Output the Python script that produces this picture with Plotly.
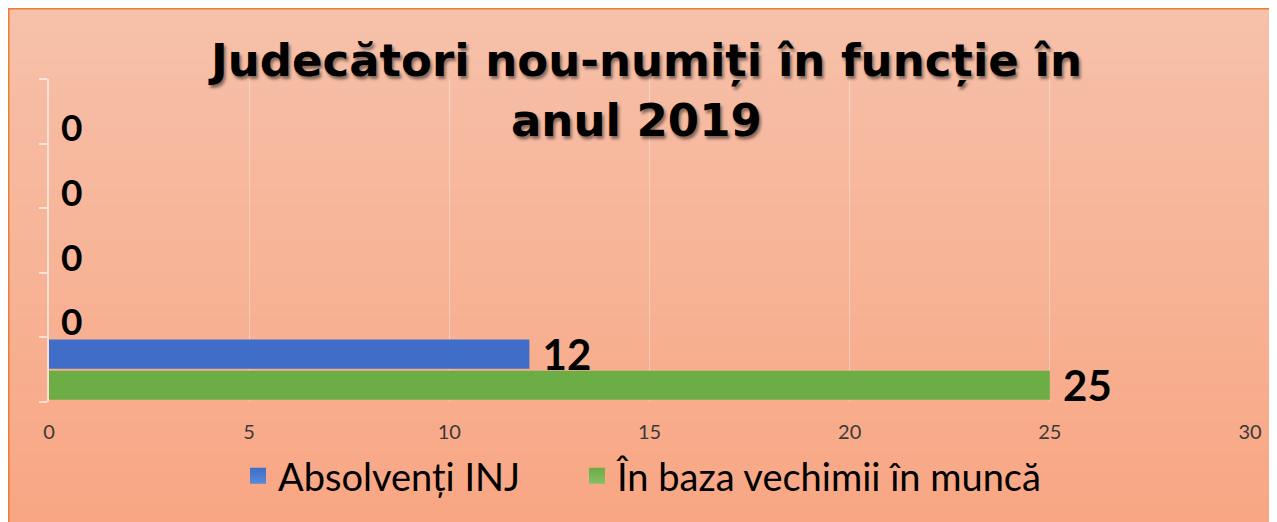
import plotly.graph_objects as go

# ---- data ----
categories = ["1", "2", "3", "4", "5"]
series_names = ["Absolvenți INJ", "În baza vechimii în muncă"]
absolventi_inj = [12, None, None, None, None]
vechime_munca = [25, 0, 0, 0, 0]
x_ticks = [0, 5, 10, 15, 20, 25, 30]
title_line1 = "Judecători nou-numiți în funcție în"
title_line2 = "anul 2019"

BLUE = "#3F6DC8"
GREEN = "#6CAD46"
NB = "\u00a0"

def labels(vals):
    return [None if v is None else NB + str(v) for v in vals]

fig = go.Figure()

# green first so it sits lower within the category (Excel order)
fig.add_trace(go.Bar(
    y=categories, x=vechime_munca, orientation="h", name=series_names[1],
    marker=dict(color=GREEN, line=dict(width=0)),
    text=labels(vechime_munca), textposition="outside", constraintext="none",
    textfont=dict(family="Lato", size=[42, 37, 37, 37, 37], color="black", weight="bold"),
    cliponaxis=False, showlegend=False, legendgroup="g", hoverinfo="x",
))
fig.add_trace(go.Bar(
    y=categories, x=absolventi_inj, orientation="h", name=series_names[0],
    marker=dict(color=BLUE, line=dict(width=0)),
    text=labels(absolventi_inj), textposition="outside", constraintext="none",
    textfont=dict(family="Lato", size=42, color="black", weight="bold"),
    cliponaxis=False, showlegend=False, legendgroup="b", hoverinfo="x",
))
# legend entries (square swatches), one per legend box
fig.add_trace(go.Scatter(
    x=[None], y=[None], mode="markers", name=series_names[0], legendgroup="b",
    legend="legend",
    marker=dict(symbol="square", size=24, color=BLUE,
                gradient=dict(type="vertical", color="#5A88D8")),
))
fig.add_trace(go.Scatter(
    x=[None], y=[None], mode="markers", name=series_names[1], legendgroup="g",
    legend="legend2",
    marker=dict(symbol="square", size=24, color=GREEN,
                gradient=dict(type="vertical", color="#86BE62")),
))

# ---- geometry (page is offset by 8px body margin) ----
OFF = 8
W, H = 1269, 514
ml, mr, mt, mb = 41, 27, 71, 120
ph = H - mt - mb
pw = W - ml - mr
def py(ypage):
    return (H - mb - (ypage - OFF)) / ph
def px(xpage):
    return (xpage - OFF - ml) / pw

# ---- background gradient (style) ----
top_rgb = (246, 193, 170)
bot_rgb = (248, 166, 131)
shapes = []
N = 60
for i in range(N):
    y0 = H * i / N
    y1 = H * (i + 1) / N + 0.5
    t = (i + 0.5) / N
    c = tuple(round(top_rgb[k] + (bot_rgb[k] - top_rgb[k]) * t) for k in range(3))
    shapes.append(dict(type="rect", xref="paper", yref="paper", layer="below",
                       x0=-0.1, x1=1.1, y0=(H - mb - y1) / ph, y1=(H - mb - y0) / ph,
                       fillcolor="rgb(%d,%d,%d)" % c, line=dict(width=0)))
# orange outer border (top and left edges)
shapes.append(dict(type="line", xref="paper", yref="paper", layer="below",
                   x0=-0.1, x1=1.1, y0=(H - mb - 0.75) / ph, y1=(H - mb - 0.75) / ph,
                   line=dict(color="#ED7D31", width=1.5)))
shapes.append(dict(type="line", xref="paper", yref="paper", layer="below",
                   x0=(0.75 - ml) / pw, x1=(0.75 - ml) / pw, y0=-1, y1=2,
                   line=dict(color="#ED7D31", width=1.5)))

title_font = dict(family="DejaVu Sans", size=45, color="black", weight="bold",
                  shadow="2px 3px 3px rgba(0,0,0,0.45)")
annotations = [
    dict(text="<b>%s</b>" % title_line1, xref="paper", yref="paper",
         x=px(645), y=py(60), xanchor="center", yanchor="middle",
         showarrow=False, font=title_font),
    dict(text="<b>%s</b>" % title_line2, xref="paper", yref="paper",
         x=px(636), y=py(120), xanchor="center", yanchor="middle",
         showarrow=False, font=title_font),
]

legend_common = dict(orientation="h", y=py(476), yanchor="middle", xanchor="left",
                     font=dict(family="Lato", size=38, color="black"),
                     bgcolor="rgba(0,0,0,0)", itemsizing="trace")

fig.update_layout(
    width=W, height=H,
    margin=dict(l=ml, r=mr, t=mt, b=mb, pad=0),
    paper_bgcolor="#F7B396",
    plot_bgcolor="rgba(0,0,0,0)",
    barmode="group", bargap=0.04, bargroupgap=0.06,
    shapes=shapes, annotations=annotations,
    showlegend=True,
    legend=dict(x=px(238), **legend_common),
    legend2=dict(x=px(577), **legend_common),
    xaxis=dict(range=[0, 30], tickvals=x_ticks, showgrid=True,
               gridcolor="rgba(255,255,255,0.35)", gridwidth=1,
               zeroline=False, showline=False, ticks="",
               ticklabelstandoff=16,
               tickfont=dict(family="Lato", size=20, color="#3A3A3A"), fixedrange=True),
    yaxis=dict(type="category", range=[-0.5, 4.5], showticklabels=False, showgrid=False,
               zeroline=False, showline=True, linecolor="rgba(255,255,255,0.6)", linewidth=2,
               ticks="outside", tickson="boundaries", ticklen=8,
               tickcolor="rgba(255,255,255,0.6)", tickwidth=2, fixedrange=True),
)

fig.write_html("out.html")
